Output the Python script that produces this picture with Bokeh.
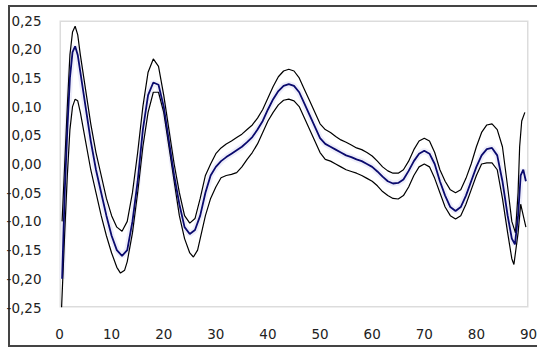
from bokeh.plotting import figure
from bokeh.models import FixedTicker, BoxAnnotation
from bokeh.embed import file_html
from bokeh.resources import INLINE

# ---- data ----
x_upper = [0.5, 1.0, 1.5, 2.0, 2.5, 3.0, 3.5, 4, 5, 6, 7, 8, 9, 10, 11, 12, 13, 14, 15, 16, 17, 18, 19, 20,
           21, 22, 23, 24, 25, 26, 27, 28, 29, 30, 31, 32, 33, 34, 35, 36, 37, 38, 39, 40, 41, 42, 43, 44,
           45, 46, 47, 48, 49, 50, 51, 52, 53, 54, 55, 56, 57, 58, 59, 60, 61, 62, 63, 64, 65, 66, 67, 68,
           69, 70, 71, 72, 73, 74, 75, 76, 77, 78, 79, 80, 81, 82, 83, 84, 85, 86, 86.8, 87.5, 88, 88.3, 88.7, 89.3]
y_upper = [-0.10, 0.0, 0.1, 0.19, 0.23, 0.24, 0.225, 0.19, 0.13, 0.07, 0.02, -0.02, -0.06, -0.09, -0.11, -0.117,
           -0.10, -0.05, 0.02, 0.10, 0.16, 0.183, 0.17, 0.12, 0.06, 0.0, -0.05, -0.09, -0.103, -0.095, -0.06,
           -0.02, 0.0, 0.018, 0.028, 0.035, 0.04, 0.046, 0.052, 0.06, 0.068, 0.08, 0.095, 0.115, 0.135, 0.152,
           0.162, 0.165, 0.162, 0.15, 0.13, 0.11, 0.09, 0.07, 0.06, 0.055, 0.048, 0.042, 0.038, 0.033, 0.028,
           0.025, 0.02, 0.014, 0.005, -0.005, -0.012, -0.016, -0.016, -0.01, 0.005, 0.025, 0.04, 0.045, 0.04,
           0.02, -0.01, -0.03, -0.045, -0.05, -0.045, -0.025, 0.0, 0.03, 0.055, 0.068, 0.07, 0.06, 0.03, -0.04,
           -0.10, -0.12, -0.05, 0.03, 0.075, 0.09]

x_mid = [0.5, 1.0, 1.5, 2.0, 2.5, 3.0, 3.5, 4, 5, 6, 7, 8, 9, 10, 11, 12, 13, 14, 15, 16, 17, 18, 19, 20,
         21, 22, 23, 24, 25, 26, 27, 28, 29, 30, 31, 32, 33, 34, 35, 36, 37, 38, 39, 40, 41, 42, 43, 44,
         45, 46, 47, 48, 49, 50, 51, 52, 53, 54, 55, 56, 57, 58, 59, 60, 61, 62, 63, 64, 65, 66, 67, 68,
         69, 70, 71, 72, 73, 74, 75, 76, 77, 78, 79, 80, 81, 82, 83, 84, 85, 86, 86.8, 87.4, 88, 88.5, 89, 89.5]
y_mid = [-0.2, -0.05, 0.06, 0.15, 0.195, 0.205, 0.19, 0.16, 0.1, 0.04, -0.01, -0.05, -0.09, -0.125, -0.15,
         -0.16, -0.15, -0.1, -0.03, 0.06, 0.12, 0.142, 0.138, 0.1, 0.04, -0.02, -0.07, -0.11, -0.122, -0.115,
         -0.09, -0.05, -0.02, -0.005, 0.005, 0.012, 0.018, 0.024, 0.03, 0.038, 0.047, 0.06, 0.075, 0.095, 0.113,
         0.127, 0.136, 0.139, 0.136, 0.125, 0.105, 0.085, 0.065, 0.045, 0.035, 0.03, 0.025, 0.02, 0.015, 0.012,
         0.008, 0.005, 0.0, -0.005, -0.013, -0.022, -0.03, -0.034, -0.033, -0.027, -0.012, 0.005, 0.018, 0.023,
         0.018, 0.0, -0.03, -0.055, -0.075, -0.082, -0.075, -0.055, -0.03, -0.005, 0.015, 0.026, 0.028, 0.015,
         -0.03, -0.09, -0.13, -0.14, -0.09, -0.02, -0.01, -0.03]

x_lower = [0.4, 1.0, 1.5, 2.0, 2.5, 3.0, 3.5, 4, 5, 6, 7, 8, 9, 10, 11, 11.7, 12.5, 13, 14, 15, 16, 17, 18, 19, 20,
           21, 22, 23, 24, 25, 25.7, 26.5, 27, 28, 29, 30, 31, 32, 33, 34, 35, 36, 37, 38, 39, 40, 41, 42, 43, 44,
           45, 46, 47, 48, 49, 50, 51, 52, 53, 54, 55, 56, 57, 58, 59, 60, 61, 62, 63, 64, 65, 66, 67, 68,
           69, 70, 71, 72, 73, 74, 75, 76, 77, 78, 79, 80, 81, 82, 83, 84, 85, 86, 86.8, 87.2, 88, 88.5, 89, 89.5]
y_lower = [-0.25, -0.12, -0.02, 0.06, 0.1, 0.113, 0.11, 0.09, 0.04, -0.01, -0.05, -0.09, -0.125, -0.155, -0.18,
           -0.19, -0.185, -0.17, -0.12, -0.05, 0.03, 0.09, 0.125, 0.125, 0.09, 0.03, -0.03, -0.09, -0.13, -0.155,
           -0.162, -0.15, -0.13, -0.09, -0.06, -0.04, -0.024, -0.02, -0.018, -0.015, -0.005, 0.008, 0.02, 0.035,
           0.055, 0.075, 0.09, 0.103, 0.111, 0.113, 0.11, 0.1, 0.08, 0.06, 0.04, 0.02, 0.008, 0.005, 0.0, -0.005,
           -0.01, -0.013, -0.016, -0.02, -0.025, -0.03, -0.038, -0.048, -0.055, -0.06, -0.061, -0.055, -0.04,
           -0.02, -0.005, 0.0, -0.005, -0.025, -0.05, -0.075, -0.09, -0.096, -0.09, -0.07, -0.045, -0.02, 0.0,
           0.002, 0.002, -0.01, -0.06, -0.12, -0.165, -0.175, -0.12, -0.07, -0.09, -0.11]

x_ticks = [0, 10, 20, 30, 40, 50, 60, 70, 80, 90]
y_ticks = [-0.25, -0.20, -0.15, -0.10, -0.05, 0.00, 0.05, 0.10, 0.15, 0.20, 0.25]
y_tick_labels = ["-0,25", "-0,20", "-0,15", "-0,10", "-0,05", "0,00", "0,05", "0,10", "0,15", "0,20", "0,25"]

p = figure(width=537, height=347, output_backend="svg", toolbar_location=None,
           x_range=(0, 90), y_range=(-0.25, 0.25),
           min_border_left=59, min_border_right=9, min_border_top=20, min_border_bottom=40)
# chart-area border drawn behind a transparent canvas border area
p.styles = {"box-shadow": "inset 8px 5px 0 0 #ffffff, inset 10px 7px 0 0 #444444, inset 0 -2px 0 0 #444444",
            "background-color": "#ffffff"}
p.background_fill_color = "white"
p.border_fill_color = None
p.outline_line_color = None
p.xgrid.visible = False
p.ygrid.visible = False

for ax in (p.xaxis[0], p.yaxis[0]):
    ax.axis_line_color = None
    ax.major_tick_line_color = None
    ax.minor_tick_line_color = None
    ax.major_label_text_font = "DejaVu Sans"
    ax.major_label_text_font_size = "13.5px"
    ax.major_label_text_color = "#222222"

p.xaxis.ticker = FixedTicker(ticks=x_ticks)
p.xaxis.major_label_standoff = 15
p.yaxis.ticker = FixedTicker(ticks=y_ticks)
p.yaxis.major_label_overrides = {t: l for t, l in zip(y_ticks, y_tick_labels)}
p.yaxis.major_label_standoff = 12

# plot-area border
p.add_layout(BoxAnnotation(left=0, right=90, bottom=-0.25, top=0.25,
                           fill_alpha=0, line_color="#8c8c8c", line_width=3, level="underlay"))

# faint haze around the curves
p.line(x_mid, y_mid, line_color="#eeeefa", line_width=6)

p.line(x_upper, y_upper, line_color="black", line_width=1.2)
p.line(x_lower, y_lower, line_color="black", line_width=1.2)
p.line(x_mid, y_mid, line_color="#0a0a6e", line_width=1.8)

open("out.html", "w").write(file_html(p, INLINE))
